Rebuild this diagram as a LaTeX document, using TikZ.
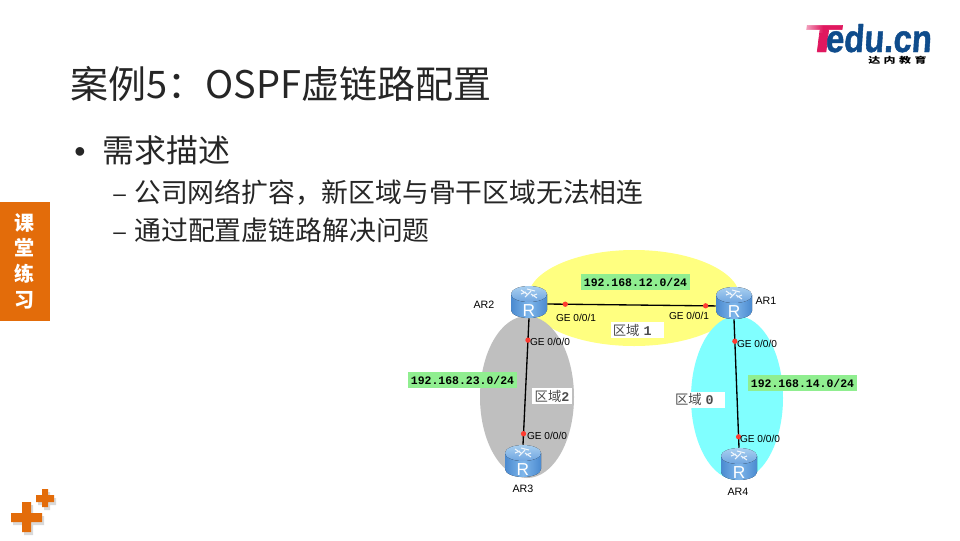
\documentclass[tikz,border=0pt]{standalone}
\usepackage{fontspec}
\usepackage{graphicx}
\usetikzlibrary{fadings}
\setmainfont{Noto Sans CJK SC}
\newfontfamily\arialf{Liberation Sans}
\newfontfamily\logof[BoldFeatures={FakeSlant=0.08,FakeBold=1.2}]{Liberation Sans}
\newfontfamily\monof{Liberation Mono}
\definecolor{tabor}{HTML}{E36C0A}
\definecolor{ipgreen}{HTML}{90EE90}
\definecolor{logoblue}{HTML}{0F4C8C}
\definecolor{logopink}{HTML}{E0185F}
\definecolor{titletxt}{HTML}{262626}
\definecolor{routedge}{HTML}{4A8AD0}
\definecolor{routmid}{HTML}{7FB6EA}
\definecolor{routtop}{HTML}{A8CFF0}
\definecolor{routlow}{HTML}{6FA5E0}
\definecolor{areayellow}{HTML}{FFFF80}
\definecolor{areacyan}{HTML}{80FFFF}
\definecolor{areagray}{HTML}{BFBFBF}
\definecolor{dotred}{HTML}{FF3B30}
\tikzset{
  txt/.style={inner sep=0pt,anchor=base west,text=titletxt},
  ipbox/.style={fill=ipgreen,inner sep=0pt,minimum width=81.75pt,minimum height=12pt,font=\monof\bfseries\fontsize{8.6}{10}\selectfont},
  arealabel/.style={fill=white,inner sep=0pt,minimum height=12pt,text=black!70,font=\fontsize{10}{11}\selectfont},
  portlabel/.style={inner sep=0pt,font=\arialf\fontsize{7.6}{9}\selectfont,text=black},
  devlabel/.style={inner sep=0pt,font=\arialf\fontsize{8}{10}\selectfont,text=black},
  reddot/.style={circle,fill=dotred,draw=none,inner sep=0pt,minimum size=4pt},
  linkline/.style={line width=1pt,black},
  routerbox/.style={inner sep=0pt,minimum width=27pt,minimum height=24pt,text=white,font=\arialf\fontsize{13}{13}\selectfont},
  plusmark/.style={fill=tabor}
}
\newcommand{\routerat}[3]{%
  \begin{scope}[shift={(#2,#3)}]
    \fill[left color=routedge,right color=routedge,middle color=routmid]
      (-18,-8) -- (-18,8) arc[start angle=180,end angle=0,x radius=18,y radius=8] -- (18,-8) -- cycle;
    \fill[top color=routtop,bottom color=routlow] (0,-8) ellipse[x radius=18,y radius=8];
    \draw[white,line width=.8pt,opacity=.85] (-8,-8)--(-3,-10) (-8,-12)--(-2,-8) (8,-8)--(3,-6) (8,-4)--(2,-8) (-4,-5)--(2,-11) (-2,-13)--(6,-11);
  \end{scope}
  \node[routerbox] (#1) at (#2,#3) {\raisebox{-10.5pt}[0pt][0pt]{R}};}
\begin{document}
\begin{tikzpicture}[x=0.75pt,y=-0.75pt]
\useasboundingbox (0,0) rectangle (960,540);
\fill[white] (0,0) rectangle (960,540);

% logo
\node[inner sep=0pt,anchor=base west,text=logopink,font=\logof\bfseries\fontsize{29}{29}\selectfont] (logot) at (803,52) {\scalebox{1.55}[1]{T}};
\fill[white,path fading=east,opacity=.7] (803,21) rectangle (823,33);
\node[inner sep=0pt,anchor=base west,text=logoblue,font=\logof\bfseries\fontsize{29}{29}\selectfont] (logoedu) at (825,52) {\scalebox{.85}[1]{edu.cn}};
\node[inner sep=0pt,anchor=base west,text=black,font=\bfseries\fontsize{9}{10}\selectfont] (logosub) at (868,63.5) {\scalebox{1}[.7]{达\hspace{2.6pt}内\hspace{2.6pt}教\hspace{2.6pt}育}};

% title and bullets
\node[txt,font=\fontsize{28.5}{32}\selectfont] (title) at (70,98) {案例5：OSPF虚链路配置};
\node[txt,font=\arialf\fontsize{24}{28}\selectfont] (b1) at (74,162) {•};
\node[txt,font=\fontsize{24}{28}\selectfont] (b1t) at (102,162) {需求描述};
\node[txt,font=\arialf\fontsize{17}{24}\selectfont] (b2) at (113,201) {–};
\node[txt,font=\fontsize{20.1}{24}\selectfont] (b2t) at (134,202) {公司网络扩容，新区域与骨干区域无法相连};
\node[txt,font=\arialf\fontsize{17}{24}\selectfont] (b3) at (113,239) {–};
\node[txt,font=\fontsize{20.15}{24}\selectfont] (b3t) at (134,240) {通过配置虚链路解决问题};

% side tab
\fill[tabor] (0,202) rectangle (50,321);
\node[inner sep=0pt,text=white,font=\bfseries\fontsize{15}{19.3}\selectfont,align=center] (tab) at (24,261) {课\\堂\\练\\习};

% plus marks
\fill[black,opacity=.15] (13,516) rectangle (44,525) (24,505) rectangle (33,535) (38,498) rectangle (56,505) (44,492) rectangle (50,510);
\fill[plusmark] (11,513) rectangle (42,522) (22,502) rectangle (31,532);
\fill[plusmark] (36,495) rectangle (54,502) (42,489) rectangle (48,507);

% areas
\fill[areayellow] (634,298) ellipse[x radius=106,y radius=48];
\fill[areagray] (527,397) ellipse[x radius=47,y radius=81];
\fill[areacyan] (737,398) ellipse[x radius=46,y radius=82];

% routers
\routerat{ar2}{529}{302}
\routerat{ar1}{734}{303}
\routerat{ar3}{523}{461}
\routerat{ar4}{739}{464}

% links
\draw[linkline] ([yshift=-1.5pt]ar2.east) -- node[pos=.107,reddot] (d21) {} node[pos=.94,reddot] (d12) {} ([yshift=-2.2pt]ar1.west);
\draw[linkline] (ar2.south) -- node[pos=.173,reddot] (d23) {} node[pos=.913,reddot] (d32) {} (ar3.north);
\draw[linkline] (ar1.south) -- node[pos=.171,reddot] (d14) {} node[pos=.915,reddot] (d41) {} (ar4.north);

% labels
\node[devlabel] (l2) at (484,305) {AR2};
\node[devlabel] (l1) at (766,301) {AR1};
\node[devlabel] (l3) at (523,489) {AR3};
\node[devlabel] (l4) at (738,492) {AR4};
\node[portlabel] at (576,318) {GE 0/0/1};
\node[portlabel] at (689,316) {GE 0/0/1};
\node[portlabel] at (550,342) {GE 0/0/0};
\node[portlabel] at (757,344) {GE 0/0/0};
\node[portlabel] at (547,436) {GE 0/0/0};
\node[portlabel] at (760,439) {GE 0/0/0};
\node[ipbox] at (635.5,282) {192.168.12.0/24};
\node[ipbox] at (462.5,380) {192.168.23.0/24};
\node[ipbox] at (802.5,383) {192.168.14.0/24};
\node[arealabel] at (637.5,330) {\makebox[40pt][l]{\hspace{1.5pt}区域\hspace{3pt}\monof\bfseries 1}};
\node[arealabel] at (552,396) {\makebox[30pt][l]{\hspace{2pt}区域\monof\bfseries 2}};
\node[arealabel] at (699,399.5) {\makebox[39pt][l]{\hspace{1.5pt}区域\hspace{3pt}\monof\bfseries 0}};
\end{tikzpicture}
\end{document}
